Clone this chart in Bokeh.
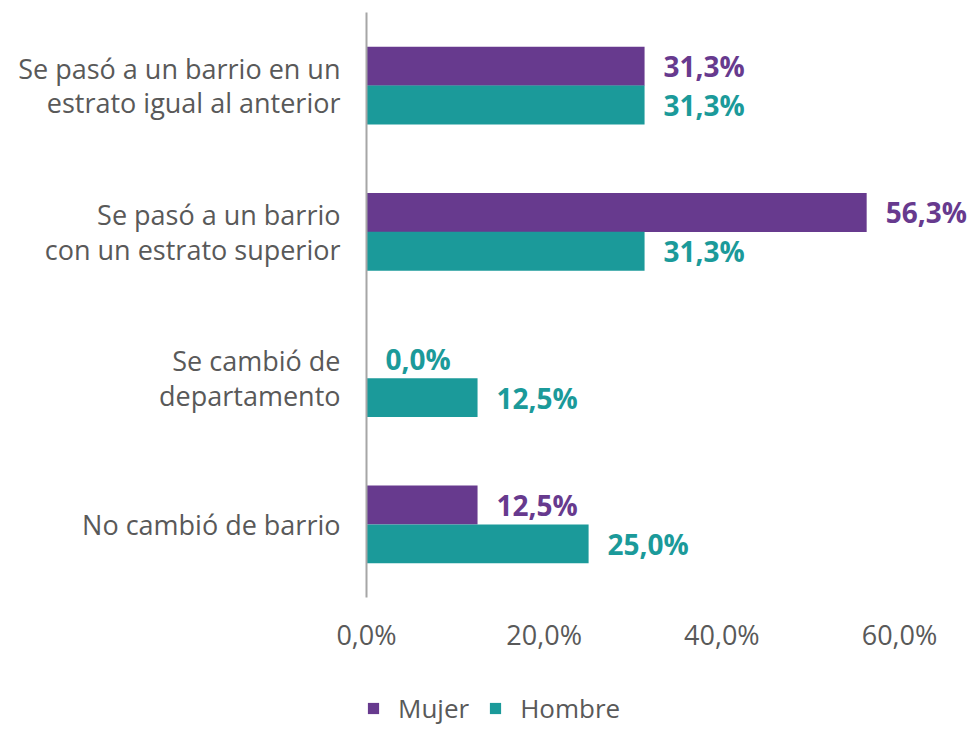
from bokeh.plotting import figure
from bokeh.layouts import column
from bokeh.models import ColumnDataSource, FactorRange, Range1d, Legend, LegendItem, LabelSet, CustomJSTickFormatter
from bokeh.transform import dodge
from bokeh.core.properties import value
from bokeh.embed import file_html
from bokeh.resources import INLINE

categories = [
    "Se pasó a un barrio en un\nestrato igual al anterior",
    "Se pasó a un barrio\ncon un estrato superior",
    "Se cambió de\ndepartamento",
    "No cambió de barrio",
]
series_names = ["Mujer", "Hombre"]
mujer = [31.3, 56.3, 0.0, 12.5]
hombre = [31.3, 31.3, 12.5, 25.0]
x_ticks = [0, 20, 40, 60]

PURPLE = "#673A8E"
TEAL = "#1B9A9A"
GRAY = "#595959"
FONT = "Open Sans"

def fmt(v):
    return f"{v:.1f}".replace(".", ",") + "%"

src = ColumnDataSource(dict(
    cat=categories,
    mujer=mujer,
    hombre=hombre,
    mujer_lbl=[fmt(v) for v in mujer],
    hombre_lbl=[fmt(v) for v in hombre],
    mujer_col=[PURPLE if v > 0 else TEAL for v in mujer],
))

p = figure(
    width=971, height=690,
    y_range=FactorRange(factors=list(reversed(categories))),
    x_range=Range1d(0, 68.1),
    output_backend="svg", toolbar_location=None,
    min_border_left=366, min_border_right=0, min_border_top=12, min_border_bottom=93,
)
p.outline_line_color = None
p.xgrid.visible = False
p.ygrid.visible = False

bh = 0.266
r1 = p.hbar(y=dodge("cat", 0.133, range=p.y_range), right="mujer", left=0, height=bh,
            source=src, fill_color=PURPLE, line_color=None)
r2 = p.hbar(y=dodge("cat", -0.133, range=p.y_range), right="hombre", left=0, height=bh,
            source=src, fill_color=TEAL, line_color=None)

l1 = LabelSet(x="mujer", y=dodge("cat", 0.133, range=p.y_range), text="mujer_lbl", source=src,
              x_offset=19, text_baseline="middle", text_font=value(FONT), text_font_style="bold",
              text_font_size="28px", text_color={"field": "mujer_col"})
l2 = LabelSet(x="hombre", y=dodge("cat", -0.133, range=p.y_range), text="hombre_lbl", source=src,
              x_offset=19, text_baseline="middle", text_font=value(FONT), text_font_style="bold",
              text_font_size="28px", text_color=TEAL)
p.add_layout(l1)
p.add_layout(l2)

p.yaxis.axis_line_color = "#A6A6A6"
p.yaxis.axis_line_width = 2
p.yaxis.major_tick_line_color = None
p.yaxis.minor_tick_line_color = None
p.yaxis.major_label_standoff = 20
p.yaxis.major_label_text_font = FONT
p.yaxis.major_label_text_font_size = "27px"
p.yaxis.major_label_text_color = GRAY
p.yaxis.major_label_text_align = "right"
p.yaxis.major_label_text_line_height = 0.93

p.xaxis.axis_line_color = None
p.xaxis.major_tick_line_color = None
p.xaxis.minor_tick_line_color = None
p.xaxis.ticker = x_ticks
p.xaxis.major_label_standoff = 12
p.xaxis.major_label_text_font = FONT
p.xaxis.major_label_text_font_size = "27px"
p.xaxis.major_label_text_color = GRAY
p.xaxis.formatter = CustomJSTickFormatter(code="return tick.toFixed(1).replace('.', ',') + '%';")

# legend strip below the chart (its frame is aligned with the chart's frame)
p2 = figure(width=971, height=36, x_range=Range1d(0, 1), y_range=Range1d(0, 1),
            output_backend="svg", toolbar_location=None,
            x_axis_location=None, y_axis_location=None, min_border=0)
p2.outline_line_color = None
p2.xgrid.visible = False
p2.ygrid.visible = False
d1 = p2.hbar(y=[0.5], right=[0], left=0, height=0.5, fill_color=PURPLE, line_color=None)
d2 = p2.hbar(y=[0.5], right=[0], left=0, height=0.5, fill_color=TEAL, line_color=None)
legend = Legend(items=[LegendItem(label=series_names[0], renderers=[d1]),
                       LegendItem(label=series_names[1], renderers=[d2])],
                location=(0, 0), orientation="horizontal",
                glyph_width=14, glyph_height=14, label_standoff=18, spacing=19,
                padding=0, margin=0, border_line_color=None, background_fill_alpha=0,
                label_text_font=FONT, label_text_font_size="26px", label_text_color=GRAY)
p2.add_layout(legend, "center")

layout = column(p, p2, spacing=0)
open("out.html", "w").write(file_html(layout, INLINE))
